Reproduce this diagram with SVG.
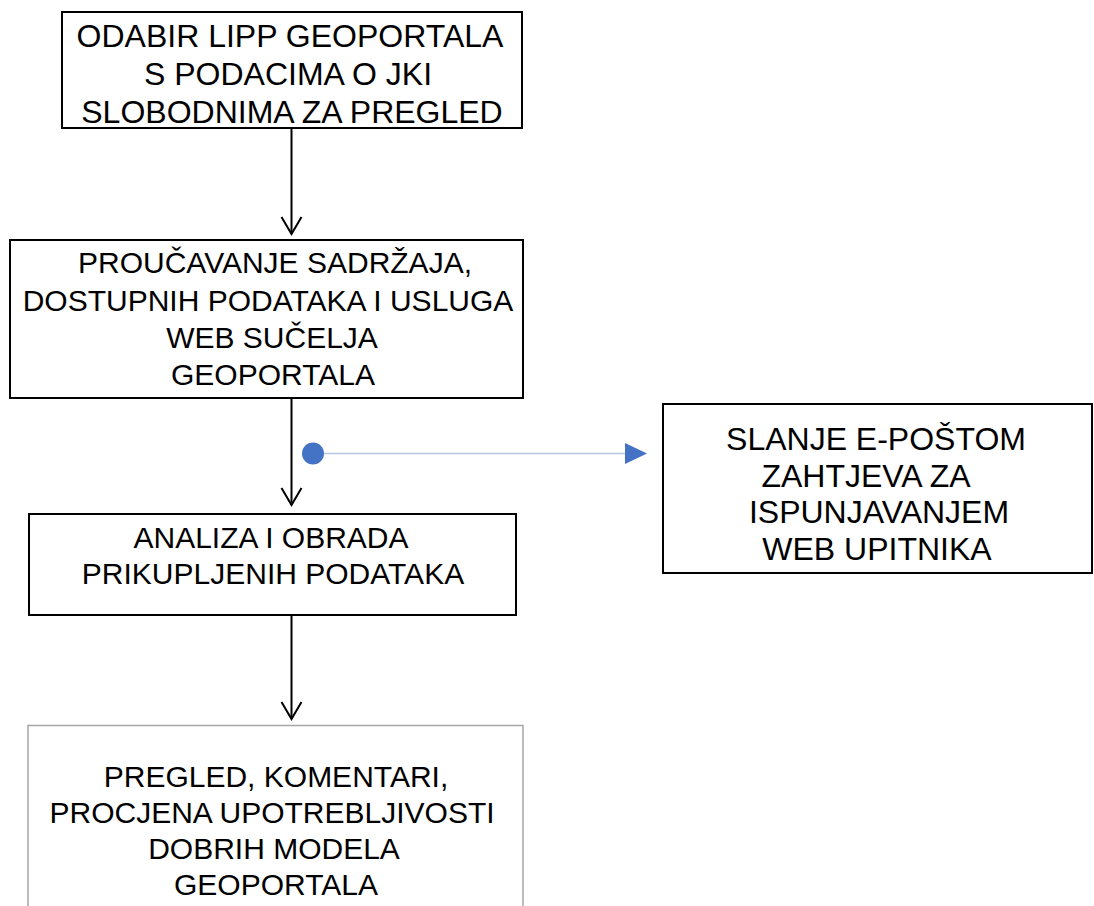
<svg xmlns="http://www.w3.org/2000/svg" width="1094" height="906" viewBox="0 0 1094 906">
<defs>
<style>
.box{fill:#fff;stroke:#000;stroke-width:2}
.box2{fill:#fff;stroke:#A6A6A6;stroke-width:1.5}
.t{font-family:"Liberation Sans",Arial,sans-serif;font-size:30px;fill:#000;text-anchor:middle}
.big{font-size:32px}
.conn{stroke:#000;stroke-width:2;fill:none}
</style>
</defs>
<rect width="1094" height="906" fill="#fff"/>
<g id="connectors">
<line class="conn" x1="291.5" y1="128" x2="291.5" y2="234"/>
<path class="conn" d="M281.5,217 L291.5,234 L301.5,217"/>
<line class="conn" x1="291.5" y1="398" x2="291.5" y2="505"/>
<path class="conn" d="M281.5,488 L291.5,505 L301.5,488"/>
<line class="conn" x1="291.5" y1="615" x2="291.5" y2="719"/>
<path class="conn" d="M281.5,702 L291.5,719 L301.5,702"/>
<line x1="313" y1="453.5" x2="627" y2="453.5" stroke="#B4C7E7" stroke-width="1.5"/>
<circle cx="313" cy="453.5" r="11" fill="#4472C4"/>
<polygon points="625,443 647,453.5 625,464" fill="#4472C4"/>
</g>
<g id="n1">
<rect class="box" x="62" y="12" width="460" height="116"/>
<text class="t big" x="290" y="47">ODABIR LIPP GEOPORTALA</text>
<text class="t big" x="288" y="85">S PODACIMA O JKI</text>
<text class="t big" x="292" y="123">SLOBODNIMA ZA PREGLED</text>
</g>
<g id="n2">
<rect class="box" x="10" y="240" width="513" height="158"/>
<text class="t" x="275" y="273">PROUČAVANJE SADRŽAJA,</text>
<text class="t" x="268" y="311">DOSTUPNIH PODATAKA I USLUGA</text>
<text class="t" x="272" y="348">WEB SUČELJA</text>
<text class="t" x="273" y="385">GEOPORTALA</text>
</g>
<g id="n3">
<rect class="box" x="29" y="514" width="487" height="101"/>
<text class="t" x="271" y="548">ANALIZA I OBRADA</text>
<text class="t" x="273" y="584">PRIKUPLJENIH PODATAKA</text>
</g>
<g id="n4">
<rect class="box" x="663" y="404" width="429" height="169"/>
<text class="t big" x="876" y="450">SLANJE E-POŠTOM</text>
<text class="t big" x="866" y="487">ZAHTJEVA ZA</text>
<text class="t big" x="879" y="523">ISPUNJAVANJEM</text>
<text class="t big" x="877" y="560">WEB UPITNIKA</text>
</g>
<g id="n5">
<rect class="box2" x="28" y="725.5" width="495" height="200"/>
<text class="t" x="276" y="787">PREGLED, KOMENTARI,</text>
<text class="t" x="272" y="823">PROCJENA UPOTREBLJIVOSTI</text>
<text class="t" x="274" y="859">DOBRIH MODELA</text>
<text class="t" x="276" y="895">GEOPORTALA</text>
</g>
</svg>
